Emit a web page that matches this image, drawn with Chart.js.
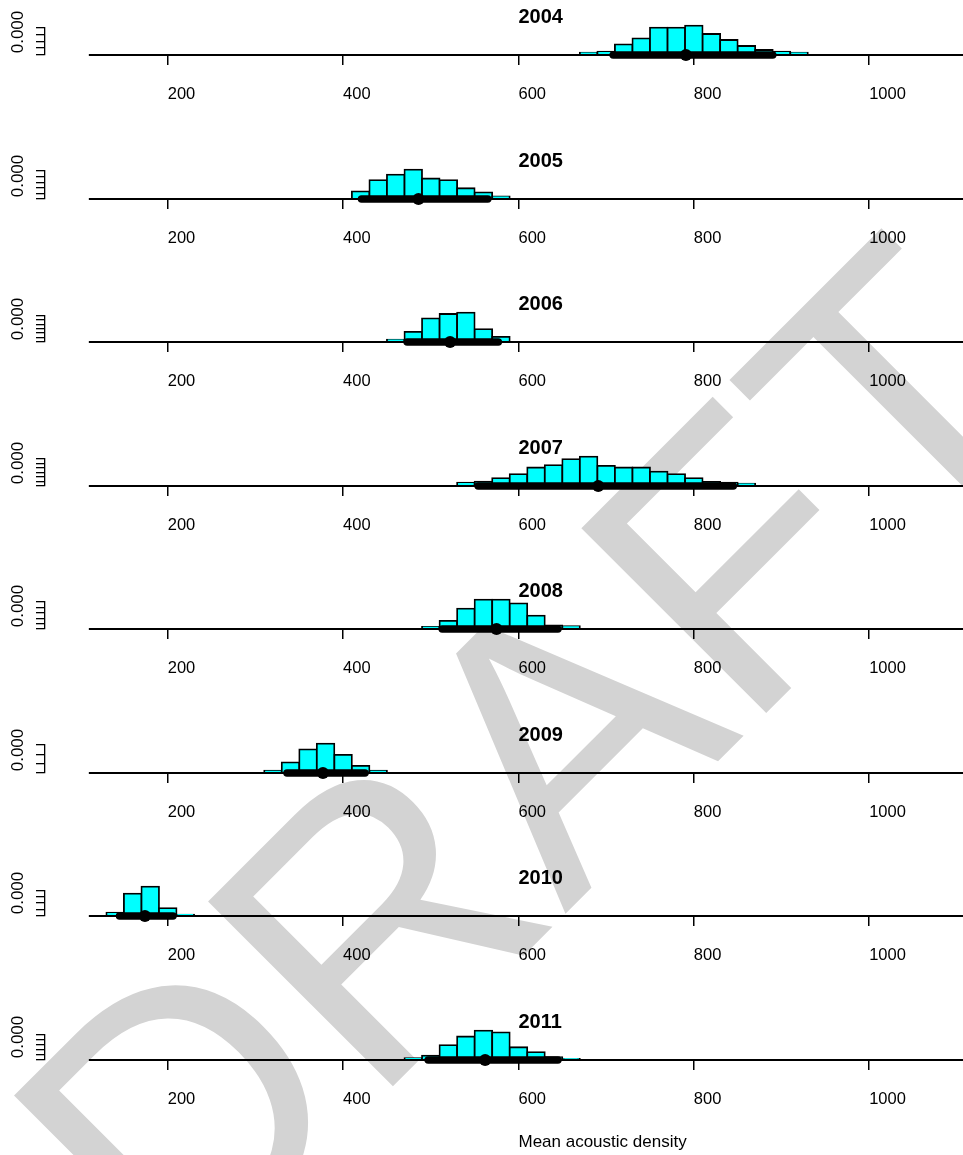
<!DOCTYPE html>
<html>
<head>
<meta charset="utf-8">
<title>Mean acoustic density by year</title>
<script src="https://cdn.jsdelivr.net/npm/chart.js@4.4.1/dist/chart.umd.min.js"></script>
<style>
  html, body { margin: 0; padding: 0; background: #ffffff; }
  body { width: 963px; height: 1155px; position: relative; overflow: hidden; }
  #stamp {
    position: absolute; left: 532px; top: 762px;
    transform: translate(-50%, -50%) rotate(-45deg);
    font: 380px/1 "Liberation Sans", Arial, Helvetica, sans-serif;
    color: #d3d3d3; white-space: nowrap; z-index: 0;
  }
  canvas { position: absolute; left: 0; z-index: 1; }
</style>
</head>
<body>
<div id="stamp">DRAFT</div>
<script>
// ---- data -------------------------------------------------------------
const years = ['2004', '2005', '2006', '2007', '2008', '2009', '2010', '2011'];

// left edge of the first non-empty 20-unit bin in each year
const firstBinEdge = [670, 410, 450, 530, 490, 310, 130, 470];
const BIN_WIDTH = 20;

// histogram densities, one value per bin, starting at firstBinEdge
const density2004 = [0.00067, 0.00096, 0.00310, 0.00484, 0.00791, 0.00791, 0.00849, 0.00609, 0.00435, 0.00261, 0.00145, 0.00096, 0.00067];
const density2005 = [0.00270, 0.00676, 0.00876, 0.01051, 0.00736, 0.00676, 0.00385, 0.00235, 0.00095];
const density2006 = [0.00105, 0.00455, 0.01059, 0.01259, 0.01318, 0.00577, 0.00227];
const density2007 = [0.00074, 0.00097, 0.00174, 0.00264, 0.00413, 0.00467, 0.00602, 0.00654, 0.00451, 0.00413, 0.00413, 0.00323, 0.00264, 0.00174, 0.00090, 0.00074, 0.00052];
const density2008 = [0.00079, 0.00302, 0.00758, 0.01087, 0.01087, 0.00954, 0.00498, 0.00130, 0.00106];
const density2009 = [0.00122, 0.00565, 0.01268, 0.01570, 0.00967, 0.00386, 0.00122];
const density2010 = [0.00265, 0.01742, 0.02272, 0.00618, 0.00104];
const density2011 = [0.00070, 0.00177, 0.00588, 0.00933, 0.01163, 0.01097, 0.00506, 0.00316, 0.00111, 0.00041];

// interval (thick bar) and point estimate (dot) per year
const intervalLow   = [708, 421, 473, 554, 513, 336, 145, 497];
const intervalHigh  = [890, 565, 577, 845, 645, 425, 206, 645];
const pointEstimate = [791, 486, 522, 691, 575, 377, 174, 562];

// y tick spacing per year (density units)
const yTickStep = [0.002, 0.002, 0.002, 0.001, 0.002, 0.005, 0.005, 0.002];

const xTickValues = [200, 400, 600, 800, 1000];
const breakRange = [110, 1110];          // full span of histogram breaks
const xAxisTitle = 'Mean acoustic density';

const densities = [density2004, density2005, density2006, density2007,
                   density2008, density2009, density2010, density2011];

// ---- layout -----------------------------------------------------------
const CANVAS_W = 963;
const BASELINE = 55;          // y of the zero line inside each panel canvas
const PANEL_STEP = 143.57;
const PANEL_H = 143;
const LAST_PANEL_H = 150;
const X_MIN = 60, X_MAX = 1107;
const BAR_PEAK_PX = 29.3;     // tallest bar height in each panel
const TEXT_AT = 600;          // titles and axis title start above this x value
const FONT = '"Liberation Sans", Arial, Helvetica, sans-serif';

// year title and x axis title
const panelText = {
  id: 'panelText',
  afterDraw(chart, _args, o) {
    const ctx = chart.ctx;
    const left = chart.scales.x.getPixelForValue(TEXT_AT);
    const bottom = chart.chartArea.bottom;
    ctx.save();
    ctx.fillStyle = '#000';
    ctx.textAlign = 'left';
    ctx.textBaseline = 'middle';
    ctx.font = 'bold 20px ' + FONT;
    ctx.fillText(o.title, left, bottom - 38);
    if (o.xlabel) {
      ctx.font = '17px ' + FONT;
      ctx.fillText(o.xlabel, left, bottom + 82);
    }
    ctx.restore();
  }
};

years.forEach((year, i) => {
  const isLast = i === years.length - 1;
  const base = Math.round(BASELINE + PANEL_STEP * i);
  const h = isLast ? LAST_PANEL_H : PANEL_H;

  const cv = document.createElement('canvas');
  cv.width = CANVAS_W;
  cv.height = h;
  cv.style.top = (base - BASELINE) + 'px';
  cv.style.width = CANVAS_W + 'px';
  cv.style.height = h + 'px';
  document.body.appendChild(cv);

  const dens = densities[i];
  const bars = dens.map((d, k) => ({ x: firstBinEdge[i] + BIN_WIDTH * (k + 0.5), y: d }));
  const peak = Math.max(...dens);
  const step = yTickStep[i];
  const nTicks = Math.floor(peak / step + 1e-9);
  const topTick = nTicks * step;
  const padTop = BASELINE - topTick * (BAR_PEAK_PX / peak);

  new Chart(cv, {
    type: 'bar',
    data: {
      datasets: [
        {
          type: 'bar', data: bars,
          backgroundColor: '#00FFFF', borderColor: '#000000',
          borderWidth: 1.8, inflateAmount: 0.9, borderSkipped: 'start',
          barPercentage: 1, categoryPercentage: 1, clip: false, order: 4
        },
        {
          type: 'line', data: breakRange.map(v => ({ x: v, y: 0 })),
          borderColor: '#000000', borderWidth: 2, pointRadius: 0, clip: false, order: 3
        },
        {
          type: 'line', data: [{ x: intervalLow[i], y: 0 }, { x: intervalHigh[i], y: 0 }],
          borderColor: '#000000', borderWidth: 7.5, borderCapStyle: 'round',
          pointRadius: 0, clip: false, order: 2
        },
        {
          type: 'scatter', data: [{ x: pointEstimate[i], y: 0 }],
          pointRadius: 6, pointHoverRadius: 6, backgroundColor: '#000000',
          borderColor: '#000000', borderWidth: 0, clip: false, order: 1
        }
      ]
    },
    options: {
      responsive: false,
      animation: false,
      devicePixelRatio: 1,
      events: [],
      layout: { autoPadding: false, padding: { left: 0, top: padTop, right: 0, bottom: 0 } },
      plugins: {
        legend: { display: false },
        tooltip: { enabled: false },
        panelText: { title: year, xlabel: isLast ? xAxisTitle : '' }
      },
      scales: {
        x: {
          type: 'linear', min: X_MIN, max: X_MAX, offset: false,
          afterBuildTicks: s => { s.ticks = xTickValues.map(v => ({ value: v })); },
          afterFit: s => { s.height = h - BASELINE; },
          grid: { offset: false, drawOnChartArea: false, drawTicks: true, tickLength: 10, color: '#000', lineWidth: 1.5 },
          border: { display: false },
          ticks: {
            autoSkip: false, align: 'start', padding: 20, minRotation: 0, maxRotation: 0,
            color: '#000', font: { family: FONT, size: 16.5 },
            callback: v => String(v)
          }
        },
        y: {
          type: 'linear', min: 0, max: topTick, offset: false,
          afterBuildTicks: s => {
            s.ticks = Array.from({ length: nTicks + 1 }, (_, k) => ({ value: k * step }));
          },
          afterFit: s => { s.width = 45; },
          grid: { offset: false, drawOnChartArea: false, drawTicks: true, tickLength: 9, color: '#000', lineWidth: 1.3 },
          border: { display: true, color: '#000', width: 1.3 },
          ticks: {
            autoSkip: false, minRotation: 90, maxRotation: 90, crossAlign: 'center',
            padding: -4, labelOffset: -23,
            color: '#000', font: { family: FONT, size: 17 },
            callback: v => (v === 0 ? v.toFixed(3) : '')
          }
        }
      }
    },
    plugins: [panelText]
  });
});
</script>
</body>
</html>
